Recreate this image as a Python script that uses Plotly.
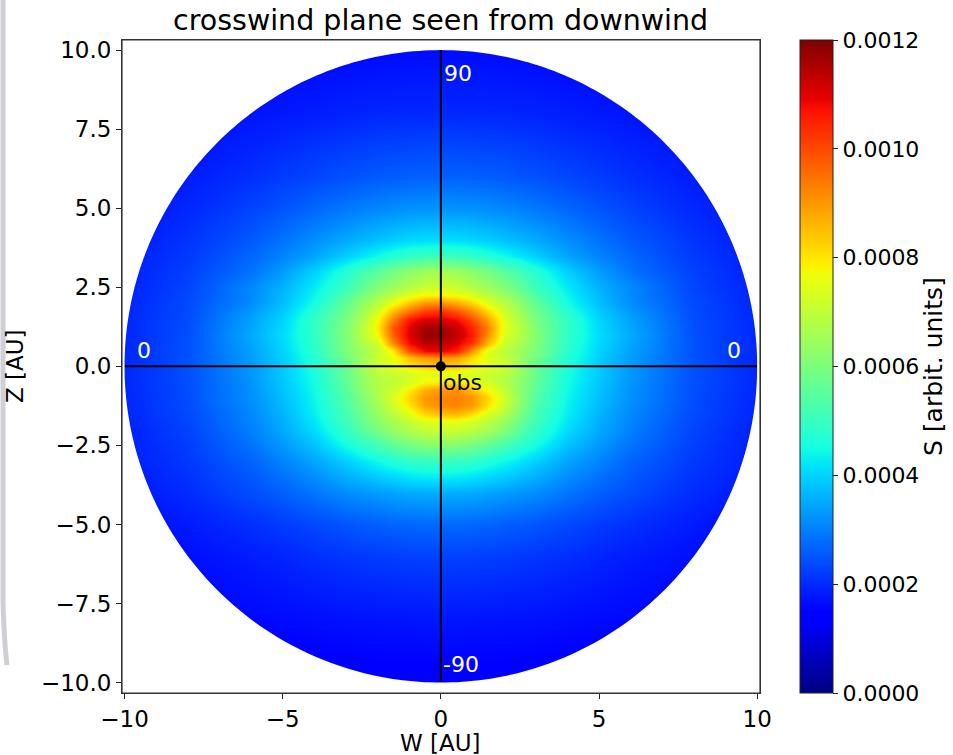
import numpy as np
import plotly.graph_objects as go

# Grid (AU) on which the intensity S was sampled
W_AU = [-10, -8, -6, -5, -4, -3, -2.5, -2, -1.5, -1, -0.5, 0,
        0.5, 1, 1.5, 2, 2.5, 3, 4, 5, 6, 8, 10]
Z_AU = [-10, -8, -6, -5, -4, -3, -2.5,
        -2, -1.75, -1.5, -1.25, -1, -0.75, -0.5, -0.25, 0,
        0.25, 0.5, 0.75, 1, 1.25, 1.5, 1.75, 2,
        2.25, 2.5, 3, 3.5, 4, 5, 6, 8, 10]

# S in units of 1e-4 (rows follow Z_AU, columns follow W_AU)
S_1e4 = [
    [1.2, 1.25, 1.3, 1.33, 1.35, 1.37, 1.38, 1.39, 1.39, 1.4, 1.4, 1.4, 1.4, 1.4, 1.39, 1.39, 1.38, 1.37, 1.35, 1.33, 1.3, 1.25, 1.2],
    [1.38, 1.47, 1.57, 1.61, 1.65, 1.69, 1.7, 1.71, 1.72, 1.73, 1.74, 1.74, 1.74, 1.73, 1.72, 1.71, 1.7, 1.69, 1.65, 1.61, 1.57, 1.47, 1.38],
    [1.51, 1.66, 1.82, 1.92, 2.04, 2.13, 2.17, 2.2, 2.23, 2.25, 2.26, 2.27, 2.26, 2.25, 2.23, 2.2, 2.17, 2.13, 2.04, 1.92, 1.82, 1.66, 1.51],
    [1.6, 1.8, 2.05, 2.2, 2.35, 2.5, 2.56, 2.62, 2.68, 2.72, 2.74, 2.75, 2.74, 2.72, 2.68, 2.62, 2.56, 2.5, 2.35, 2.2, 2.05, 1.8, 1.6],
    [1.74, 2.0, 2.39, 2.62, 2.88, 3.15, 3.25, 3.34, 3.42, 3.5, 3.53, 3.55, 3.53, 3.5, 3.42, 3.34, 3.25, 3.15, 2.88, 2.62, 2.39, 2.0, 1.74],
    [1.82, 2.16, 2.67, 3.05, 3.45, 3.95, 4.2, 4.45, 4.65, 4.85, 4.95, 5.0, 4.95, 4.85, 4.65, 4.45, 4.2, 3.95, 3.45, 3.05, 2.67, 2.16, 1.82],
    [1.85, 2.22, 2.85, 3.3, 3.8, 4.5, 4.85, 5.2, 5.6, 5.9, 6.1, 6.2, 6.1, 5.9, 5.6, 5.2, 4.85, 4.5, 3.8, 3.3, 2.85, 2.22, 1.85],
    [1.87, 2.29, 3.0, 3.5, 4.1, 4.9, 5.45, 5.95, 6.4, 6.75, 7.05, 7.15, 7.15, 6.95, 6.6, 6.15, 5.45, 4.9, 4.1, 3.5, 3.0, 2.29, 1.87],
    [1.9, 2.32, 3.05, 3.56, 4.2, 5.05, 5.7, 6.15, 6.6, 7.0, 7.35, 7.5, 7.5, 7.25, 6.9, 6.4, 5.7, 5.05, 4.2, 3.56, 3.05, 2.32, 1.9],
    [1.92, 2.35, 3.1, 3.62, 4.3, 5.2, 5.8, 6.4, 6.9, 7.5, 8.2, 8.5, 8.6, 8.1, 7.35, 6.8, 6.0, 5.2, 4.3, 3.62, 3.1, 2.35, 1.92],
    [1.93, 2.38, 3.15, 3.7, 4.35, 5.3, 5.95, 6.6, 7.2, 7.95, 8.8, 9.15, 9.2, 8.95, 8.0, 7.1, 6.2, 5.3, 4.35, 3.7, 3.15, 2.38, 1.93],
    [1.93, 2.4, 3.2, 3.75, 4.4, 5.4, 6.05, 6.7, 7.35, 8.2, 9.0, 9.25, 9.3, 9.05, 8.2, 7.25, 6.3, 5.4, 4.4, 3.75, 3.2, 2.4, 1.93],
    [1.94, 2.41, 3.22, 3.8, 4.45, 5.5, 6.2, 6.8, 7.2, 7.9, 8.7, 9.0, 9.05, 8.5, 7.7, 7.1, 6.2, 5.5, 4.45, 3.8, 3.22, 2.41, 1.94],
    [1.95, 2.42, 3.25, 3.85, 4.5, 5.6, 6.3, 6.8, 7.0, 7.3, 7.75, 7.9, 8.0, 7.6, 7.3, 6.8, 6.3, 5.6, 4.5, 3.85, 3.25, 2.42, 1.95],
    [1.95, 2.43, 3.28, 3.88, 4.55, 5.7, 6.4, 6.9, 7.1, 7.3, 7.5, 7.5, 7.5, 7.3, 7.1, 6.9, 6.4, 5.7, 4.55, 3.88, 3.28, 2.43, 1.95],
    [1.96, 2.45, 3.3, 3.9, 4.6, 5.6, 6.5, 7.3, 7.6, 8.0, 8.3, 8.5, 8.3, 7.9, 7.6, 7.3, 6.5, 5.6, 4.6, 3.9, 3.3, 2.45, 1.96],
    [1.96, 2.45, 3.35, 3.95, 4.7, 5.85, 6.5, 7.15, 7.6, 8.4, 8.9, 9.0, 8.8, 8.1, 7.4, 7.1, 6.45, 5.85, 4.7, 3.95, 3.35, 2.45, 1.96],
    [1.96, 2.45, 3.4, 4.0, 4.8, 6.0, 6.5, 7.1, 7.9, 9.9, 10.8, 10.9, 10.55, 9.0, 7.45, 6.95, 6.5, 6.0, 4.8, 4.0, 3.4, 2.45, 1.96],
    [1.96, 2.44, 3.45, 4.05, 4.85, 6.05, 6.7, 7.3, 9.2, 10.8, 11.4, 11.4, 11.0, 10.3, 8.6, 7.2, 6.7, 6.05, 4.85, 4.05, 3.45, 2.44, 1.96],
    [1.95, 2.43, 3.5, 4.1, 4.9, 6.1, 6.85, 7.8, 9.7, 11.0, 11.8, 11.75, 11.3, 10.6, 9.1, 7.45, 6.85, 6.1, 4.9, 4.1, 3.5, 2.43, 1.95],
    [1.95, 2.42, 3.45, 4.05, 4.9, 6.05, 6.85, 7.95, 9.8, 10.9, 11.6, 11.6, 11.2, 10.45, 9.2, 7.55, 6.85, 6.05, 4.9, 4.05, 3.45, 2.42, 1.95],
    [1.94, 2.4, 3.4, 4.0, 4.9, 5.95, 6.7, 7.75, 9.25, 10.6, 11.0, 11.0, 10.7, 9.9, 8.8, 7.45, 6.7, 5.95, 4.9, 4.0, 3.4, 2.4, 1.94],
    [1.93, 2.38, 3.3, 3.9, 4.7, 5.8, 6.5, 7.3, 8.5, 9.4, 10.1, 10.3, 9.8, 9.15, 8.1, 7.2, 6.5, 5.8, 4.7, 3.9, 3.3, 2.38, 1.93],
    [1.92, 2.36, 3.15, 3.75, 4.5, 5.6, 6.25, 6.95, 7.6, 8.4, 9.0, 9.1, 8.75, 8.2, 7.45, 6.9, 6.25, 5.6, 4.5, 3.75, 3.15, 2.36, 1.92],
    [1.9, 2.33, 3.12, 3.68, 4.38, 5.3, 5.95, 6.45, 6.95, 7.45, 7.75, 7.8, 7.65, 7.35, 6.9, 6.45, 5.95, 5.3, 4.38, 3.68, 3.12, 2.33, 1.9],
    [1.88, 2.3, 3.1, 3.6, 4.25, 5.0, 5.6, 6.1, 6.45, 6.8, 7.1, 7.2, 7.1, 6.8, 6.45, 6.1, 5.6, 5.0, 4.25, 3.6, 3.1, 2.3, 1.88],
    [1.86, 2.24, 2.84, 3.35, 3.95, 4.7, 5.1, 5.5, 5.9, 6.2, 6.45, 6.55, 6.45, 6.2, 5.9, 5.5, 5.1, 4.7, 3.95, 3.35, 2.84, 2.24, 1.86],
    [1.83, 2.17, 2.7, 3.05, 3.44, 3.95, 4.2, 4.45, 4.7, 4.9, 5.05, 5.1, 5.05, 4.9, 4.7, 4.45, 4.2, 3.95, 3.44, 3.05, 2.7, 2.17, 1.83],
    [1.79, 2.1, 2.55, 2.85, 3.18, 3.5, 3.65, 3.8, 3.93, 4.03, 4.1, 4.12, 4.1, 4.03, 3.93, 3.8, 3.65, 3.5, 3.18, 2.85, 2.55, 2.1, 1.79],
    [1.71, 1.95, 2.28, 2.49, 2.7, 2.91, 3.0, 3.08, 3.15, 3.2, 3.23, 3.24, 3.23, 3.2, 3.15, 3.08, 3.0, 2.91, 2.7, 2.49, 2.28, 1.95, 1.71],
    [1.63, 1.82, 2.05, 2.19, 2.32, 2.45, 2.5, 2.56, 2.6, 2.63, 2.65, 2.66, 2.65, 2.63, 2.6, 2.56, 2.5, 2.45, 2.32, 2.19, 2.05, 1.82, 1.63],
    [1.49, 1.6, 1.72, 1.78, 1.83, 1.89, 1.91, 1.93, 1.94, 1.95, 1.96, 1.96, 1.96, 1.95, 1.94, 1.93, 1.91, 1.89, 1.83, 1.78, 1.72, 1.6, 1.49],
    [1.36, 1.44, 1.5, 1.54, 1.56, 1.58, 1.59, 1.6, 1.61, 1.61, 1.62, 1.62, 1.62, 1.61, 1.61, 1.6, 1.59, 1.58, 1.56, 1.54, 1.5, 1.44, 1.36],
]

X_TICKS = [-10, -5, 0, 5, 10]
X_TICKTEXT = ["\u221210", "\u22125", "0", "5", "10"]
Y_TICKS = [-10, -7.5, -5, -2.5, 0, 2.5, 5, 7.5, 10]
Y_TICKTEXT = ["\u221210.0", "\u22127.5", "\u22125.0", "\u22122.5", "0.0",
              "2.5", "5.0", "7.5", "10.0"]
CB_TICKS = [0, 0.0002, 0.0004, 0.0006, 0.0008, 0.0010, 0.0012]
CB_TICKTEXT = ["0.0000", "0.0002", "0.0004", "0.0006", "0.0008", "0.0010", "0.0012"]

R_MAX = 10.0
FONT = "DejaVu Sans"

# matplotlib "jet" colour map
JET = [
    [0.0, "rgb(0,0,128)"], [0.11, "rgb(0,0,255)"], [0.125, "rgb(0,0,255)"],
    [0.34, "rgb(0,219,255)"], [0.35, "rgb(0,230,247)"], [0.375, "rgb(21,255,226)"],
    [0.64, "rgb(238,255,8)"], [0.65, "rgb(247,246,0)"], [0.66, "rgb(255,236,0)"],
    [0.89, "rgb(255,19,0)"], [0.91, "rgb(232,0,0)"], [1.0, "rgb(128,0,0)"],
]

# plot-area geometry in pixels (953 x 755 page)
PL, PR, PT, PB = 122, 760, 40, 693
PW, PH = PR - PL, PB - PT


def px_x(px):
    return (px - PL) / PW


def px_y(py):
    return (PB - py) / PH


S = np.array(S_1e4) * 1e-4

fig = go.Figure()
fig.add_trace(go.Heatmap(
    x=W_AU, y=Z_AU, z=S, zsmooth="best", colorscale=JET, zmin=0, zmax=0.0012,
    colorbar=dict(
        x=px_x(800), xanchor="left", xpad=0, y=0.5, yanchor="middle", ypad=0,
        len=1, lenmode="fraction",
        thickness=33, outlinewidth=1, outlinecolor="#222",
        tickmode="array", tickvals=CB_TICKS, ticktext=CB_TICKTEXT,
        ticks="outside", ticklen=5, tickcolor="#222",
        tickfont=dict(family=FONT, size=22, color="black"),
    ),
    hoverinfo="skip",
))

# crosshair through the observer
fig.add_trace(go.Scatter(x=[-R_MAX, R_MAX], y=[0, 0], mode="lines",
                         line=dict(color="black", width=2), hoverinfo="skip", showlegend=False))
fig.add_trace(go.Scatter(x=[0, 0], y=[-R_MAX, R_MAX], mode="lines",
                         line=dict(color="black", width=2), hoverinfo="skip", showlegend=False))
fig.add_trace(go.Scatter(x=[0], y=[0], mode="markers",
                         marker=dict(color="black", size=10), hoverinfo="skip", showlegend=False))

# white mask outside the disc r <= R_MAX
th = np.linspace(0, 2 * np.pi, 361)
ring = " ".join(f"L{R_MAX*np.cos(t):.4f},{R_MAX*np.sin(t):.4f}" for t in th[1:])
mask_path = (f"M-12,-12 L12,-12 L12,12 L-12,12 Z "
             f"M{R_MAX:.4f},0 {ring} Z")
shapes = [
    dict(type="path", path=mask_path, xref="x", yref="y", fillcolor="white",
         fillrule="evenodd", line=dict(width=0), layer="above"),
    dict(type="rect", xref="paper", yref="paper", x0=0, x1=1, y0=0, y1=1,
         line=dict(color="#333", width=1.2), fillcolor="rgba(0,0,0,0)", layer="above"),
    # faint page shadow along the left edge
    dict(type="path", xref="paper", yref="paper",
         path=(f"M{px_x(3):.4f},{px_y(-5):.4f} L{px_x(3):.4f},{px_y(600):.4f} "
               f"Q{px_x(4):.4f},{px_y(640):.4f} {px_x(7):.4f},{px_y(665):.4f}"),
         line=dict(color="rgba(175,175,185,0.6)", width=5), layer="above"),
]

ann_font = dict(family=FONT, size=22)
annotations = [
    dict(x=0.05, y=9.27, text="90", showarrow=False, xanchor="left", yanchor="middle",
         font=dict(ann_font, color="white")),
    dict(x=0.0, y=-9.43, text="-90", showarrow=False, xanchor="left", yanchor="middle",
         font=dict(ann_font, color="white")),
    dict(x=-9.4, y=0.49, text="0", showarrow=False, xanchor="center", yanchor="middle",
         font=dict(ann_font, color="white")),
    dict(x=9.26, y=0.49, text="0", showarrow=False, xanchor="center", yanchor="middle",
         font=dict(ann_font, color="white")),
    dict(x=0.0, y=-0.5, text="obs", showarrow=False, xanchor="left", yanchor="middle",
         font=dict(ann_font, color="black")),
    # axis titles
    dict(xref="paper", yref="paper", x=px_x(440), y=px_y(743), text="W [AU]",
         showarrow=False, xanchor="center", yanchor="middle",
         font=dict(family=FONT, size=23, color="black")),
    dict(xref="paper", yref="paper", x=px_x(15), y=px_y(366), text="Z [AU]", textangle=-90,
         showarrow=False, xanchor="center", yanchor="middle",
         font=dict(family=FONT, size=23, color="black")),
    # colour-bar label
    dict(xref="paper", yref="paper", x=px_x(934), y=px_y(367), text="S [arbit. units]",
         textangle=-90, showarrow=False, xanchor="center", yanchor="middle",
         font=dict(family=FONT, size=25, color="black")),
    # title
    dict(xref="paper", yref="paper", x=px_x(440), y=px_y(21),
         text="crosswind plane seen from downwind", showarrow=False,
         xanchor="center", yanchor="middle", font=dict(family=FONT, size=28.5, color="black")),
]

fig.update_layout(
    width=953, height=755,
    margin=dict(l=PL, r=953 - PR, t=PT, b=755 - PB, autoexpand=False),
    paper_bgcolor="white", plot_bgcolor="white",
    font=dict(family=FONT, size=22, color="black"),
    xaxis=dict(range=[-10.08, 10.09], tickmode="array", tickvals=X_TICKS, ticktext=X_TICKTEXT,
               ticks="outside", ticklen=5, tickcolor="#222", showgrid=False, zeroline=False,
               showline=True, linecolor="#333", mirror=True,
               tickfont=dict(family=FONT, size=23)),
    yaxis=dict(range=[-10.33, 10.32], tickmode="array", tickvals=Y_TICKS, ticktext=Y_TICKTEXT,
               ticks="outside", ticklen=5, tickcolor="#222", showgrid=False, zeroline=False,
               showline=True, linecolor="#333", mirror=True,
               tickfont=dict(family=FONT, size=23)),
    shapes=shapes,
    annotations=annotations,
)

fig.write_html("out.html")
